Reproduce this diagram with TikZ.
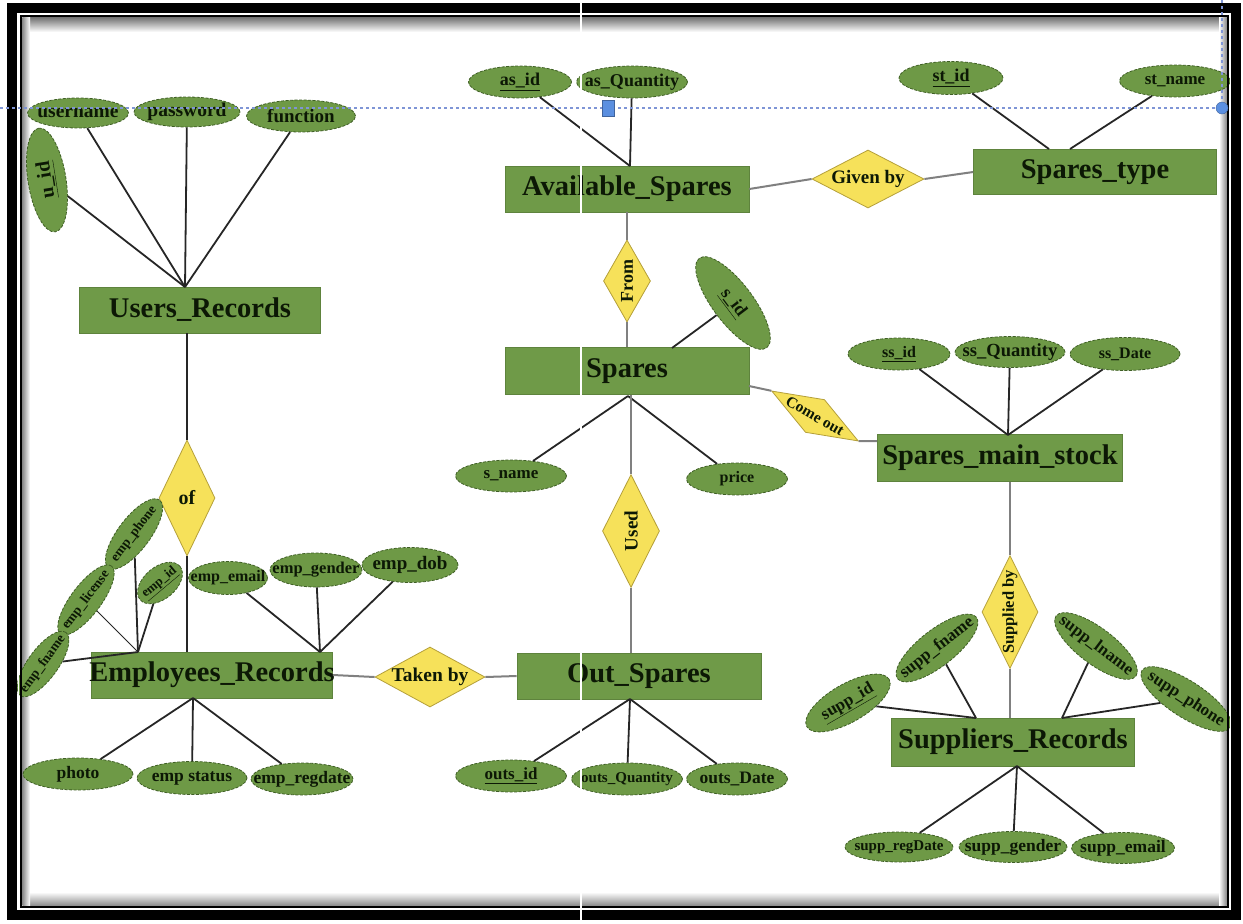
\documentclass[tikz,border=0pt]{standalone}
\usepackage{fontspec}
\setmainfont{Liberation Serif}
\usetikzlibrary{shapes.geometric}
\definecolor{entgreen}{HTML}{6F9A48}
\definecolor{attgreen}{HTML}{6E9946}
\definecolor{attedge}{HTML}{3F5F25}
\definecolor{relyellow}{HTML}{F6E15A}
\definecolor{reledge}{HTML}{B5A03A}
\definecolor{txt}{HTML}{0C1805}
\definecolor{handle}{HTML}{5B8FE0}
\definecolor{guide}{HTML}{7F95D6}
\newcommand{\fsz}[1]{\fontsize{#1}{#1}\selectfont\bfseries}
\newcommand{\zb}[1]{\makebox[0pt]{#1}}
\tikzset{
 entity/.style={rectangle, fill=entgreen, draw=entgreen!85!black, line width=0.6, minimum width=244, minimum height=46, inner sep=0, text=txt, font=\fsz{28.5}},
 attr/.style={ellipse, fill=attgreen, draw=attedge, dash pattern=on 3pt off 1.5pt, line width=0.8, inner sep=0, text=txt, font=\fsz{18}},
 fs/.style={font=\fsz{#1}},
 rel/.style={diamond, fill=relyellow, draw=reledge, line width=0.8, inner sep=0, text=txt, font=\fsz{19}},
 link/.style={draw=black!85, line width=1.8},
 rlink/.style={draw=black!50, line width=2},
}
\begin{document}
\begin{tikzpicture}[x=1pt,y=-1pt]
\useasboundingbox (0,0) rectangle (1243,924);
% background and inner shadow of the frame
\fill[white] (0,0) rectangle (1243,924);
\shade[top color=black!55, bottom color=white] (22.5,17.5) rectangle (1226.5,32);
\shade[top color=white, bottom color=black!45] (22.5,892) rectangle (1226.5,905.5);
\shade[left color=black!45, right color=white] (22.5,17.5) rectangle (30,905.5);
\shade[left color=white, right color=black!45] (1219,17.5) rectangle (1226.5,905.5);

% entities
\node[entity, minimum width=241] (users) at (200,310) {\zb{Users\_Records}};
\node[entity] (avail) at (627,189) {\zb{Available\_Spares}};
\node[entity, minimum width=243, minimum height=45] (stype) at (1095,172) {\zb{Spares\_type}};
\node[entity, minimum height=47] (spares) at (627,371) {\zb{Spares}};
\node[entity, minimum width=245, minimum height=47] (smain) at (1000,458) {\zb{Spares\_main\_stock}};
\node[entity, minimum width=241] (emp) at (212,675) {\zb{Employees\_Records}};
\node[entity] (outs) at (639,676) {\zb{Out\_Spares}};
\node[entity, minimum width=243, minimum height=48] (supps) at (1013,742) {\zb{Suppliers\_Records}};

% relationships
\node[rel, minimum width=56, minimum height=116, shape aspect=0.48, fs=20] (of) at (187,498) {\zb{of}};
\node[rel, minimum width=112, minimum height=58, shape aspect=1.93] (givenby) at (868,179) {\zb{Given by}};
\node[rel, minimum width=47, minimum height=82, shape aspect=0.57, fs=18] (from) at (627,281) {\zb{\rotatebox{90}{From}}};
\node[rel, minimum width=57, minimum height=113, shape aspect=0.5] (used) at (631,531) {\zb{\rotatebox{90}{Used}}};
\node[rel, minimum width=110, minimum height=60, shape aspect=1.83, fs=19.5] (takenby) at (430,677) {\zb{Taken by}};
\node[rel, minimum width=100, minimum height=38, shape aspect=2.6, rotate=-30, fs=15.5] (comeout) at (815,416) {\zb{Come out}};
\node[rel, minimum width=56, minimum height=113, shape aspect=0.5, fs=16.5] (supplied) at (1010,612) {\zb{\rotatebox{90}{Supplied by}}};

% attributes
\node[attr, fs=19.5, minimum width=101, minimum height=30] (username) at (78,113) {\zb{username}};
\node[attr, fs=19.5, minimum width=106, minimum height=30] (password) at (187,112) {\zb{password}};
\node[attr, fs=19, minimum width=109, minimum height=32] (function) at (301,116) {\zb{function}};
\node[attr, fs=20, minimum width=105, minimum height=38, rotate=99] (uid) at (47,180) {\zb{\underline{u\_id}}};
\node[attr, minimum width=103, minimum height=32] (asid) at (520,82) {\zb{\underline{as\_id}}};
\node[attr, minimum width=111, minimum height=32] (asqty) at (632,82) {\zb{as\_Quantity}};
\node[attr, minimum width=104, minimum height=33] (stid) at (951,78) {\zb{\underline{st\_id}}};
\node[attr, fs=17, minimum width=111, minimum height=32] (stname) at (1175,81) {\zb{st\_name}};
\node[attr, minimum width=112, minimum height=40, rotate=-53] (sid) at (733,303) {\zb{\underline{s\_id}}};
\node[attr, fs=17, minimum width=111, minimum height=32] (sname) at (511,476) {\zb{s\_name}};
\node[attr, fs=16, minimum width=101, minimum height=32] (price) at (737,479) {\zb{price}};
\node[attr, fs=16, minimum width=102, minimum height=32] (ssid) at (899,354) {\zb{\underline{ss\_id}}};
\node[attr, fs=18.5, minimum width=110, minimum height=31] (ssqty) at (1010,352) {\zb{ss\_Quantity}};
\node[attr, fs=16, minimum width=110, minimum height=33] (ssdate) at (1125,354) {\zb{ss\_Date}};
\node[attr, fs=16, minimum width=79, minimum height=33] (empemail) at (228,578) {\zb{emp\_email}};
\node[attr, fs=16.5, minimum width=92, minimum height=34] (empgender) at (316,570) {\zb{emp\_gender}};
\node[attr, fs=19, minimum width=96, minimum height=35] (empdob) at (410,565) {\zb{emp\_dob}};
\node[attr, fs=13, minimum width=52, minimum height=32, rotate=40] (empid) at (160,583) {\zb{\underline{emp\_id}}};
\node[attr, fs=13.5, minimum width=85, minimum height=32, rotate=53] (empphone) at (134,534) {\zb{emp\_phone}};
\node[attr, fs=13.5, minimum width=85, minimum height=30, rotate=53] (emplicense) at (86,600) {\zb{emp\_license}};
\node[attr, fs=13.5, minimum width=78, minimum height=30, rotate=54] (empfname) at (43,664) {\zb{emp\_fname}};
\node[attr, fs=17.5, minimum width=110, minimum height=32] (photo) at (78,774) {\zb{photo}};
\node[attr, fs=17.5, minimum width=110, minimum height=33] (empstatus) at (192,778) {\zb{emp status}};
\node[attr, fs=17.5, minimum width=102, minimum height=32] (empreg) at (302,779) {\zb{emp\_regdate}};
\node[attr, fs=17, minimum width=111, minimum height=32] (outsid) at (511,776) {\zb{\underline{outs\_id}}};
\node[attr, fs=15, minimum width=111, minimum height=32] (outsqty) at (627,779) {\zb{outs\_Quantity}};
\node[attr, fs=17.5, minimum width=101, minimum height=32] (outsdate) at (737,779) {\zb{outs\_Date}};
\node[attr, fs=17, minimum width=95, minimum height=38, rotate=30] (suppid) at (848,703) {\zb{\underline{supp\_id}}};
\node[attr, fs=17, minimum width=100, minimum height=36, rotate=38] (suppfname) at (937,648) {\zb{supp\_fname}};
\node[attr, fs=17, minimum width=100, minimum height=36, rotate=-37] (supplname) at (1096,646) {\zb{supp\_lname}};
\node[attr, fs=17, minimum width=105, minimum height=36, rotate=-33] (suppphone) at (1186,699) {\zb{supp\_phone}};
\node[attr, fs=15, minimum width=108, minimum height=30] (suppreg) at (899,847) {\zb{supp\_regDate}};
\node[attr, fs=17.5, minimum width=108, minimum height=31] (suppgender) at (1013,847) {\zb{supp\_gender}};
\node[attr, fs=17.5, minimum width=103, minimum height=31] (suppemail) at (1123,848) {\zb{supp\_email}};

% junction points on entity borders
\coordinate (ur) at (185,287);
\coordinate (avt) at (630,166);
\coordinate (stA) at (1049,149);
\coordinate (stB) at (1070,149);
\coordinate (spt) at (672,348);
\coordinate (spb) at (628,396);
\coordinate (spr) at (749,386);
\coordinate (sml) at (877,441);
\coordinate (smt) at (1008,435);
\coordinate (outt) at (630,699);
\coordinate (et1) at (138,652);
\coordinate (et2) at (320,652);
\coordinate (eb) at (193,698);
\coordinate (st1) at (976,718);
\coordinate (st2) at (1062,718);
\coordinate (sb) at (1017,766);

% attribute connectors
\draw[link] (username) -- (ur);
\draw[link] (password) -- (ur);
\draw[link] (function) -- (ur);
\draw[link] (uid) -- (ur);
\draw[link] (asid) -- (avt);
\draw[link] (asqty) -- (avt);
\draw[link] (stid) -- (stA);
\draw[link] (stname) -- (stB);
\draw[link] (sid) -- (spt);
\draw[link] (sname) -- (spb);
\draw[link] (price) -- (spb);
\draw[link] (ssid) -- (smt);
\draw[link] (ssqty) -- (smt);
\draw[link] (ssdate) -- (smt);
\draw[link] (empemail) -- (et2);
\draw[link] (empgender) -- (et2);
\draw[link] (empdob) -- (et2);
\draw[link] (empphone) -- (et1);
\draw[link, line width=1] (emplicense) -- (et1);
\draw[link] (empid) -- (et1);
\draw[link] (empfname) -- (et1);
\draw[link] (photo) -- (eb);
\draw[link] (empstatus) -- (eb);
\draw[link] (empreg) -- (eb);
\draw[link] (outsid) -- (outt);
\draw[link] (outsqty) -- (outt);
\draw[link] (outsdate) -- (outt);
\draw[link] (suppid) -- (st1);
\draw[link] (suppfname) -- (st1);
\draw[link] (supplname) -- (st2);
\draw[link] (suppphone) -- (st2);
\draw[link] (suppreg) -- (sb);
\draw[link] (suppgender) -- (sb);
\draw[link] (suppemail) -- (sb);

% relationship connectors
\draw[link] (users.south -| of.north) -- (of.north);
\draw[link] (of.south) -- (of.south |- emp.north);
\draw[rlink] (avail.east) -- (givenby.west);
\draw[rlink] (givenby.east) -- (stype.west);
\draw[rlink] (avail.south) -- (from.north);
\draw[rlink] (from.south) -- (spares.north);
\draw[rlink] (spares.south -| used.north) -- (used.north);
\draw[rlink] (used.south) -- (used.south |- outs.north);
\draw[rlink] (emp.east) -- (takenby.west);
\draw[rlink] (takenby.east) -- (outs.west);
\draw[rlink] (spr) -- (comeout.west);
\draw[rlink] (comeout.east) -- (sml);
\draw[rlink] (supplied.north |- smain.south) -- (supplied.north);
\draw[rlink] (supplied.south) -- (supplied.south |- supps.north);

% frame
\draw[black, line width=10] (12,8) rectangle (1236,915);
\draw[white, line width=1.2] (18.5,13.5) rectangle (1230.5,909.5);
\draw[black, line width=2.5] (21,16) rectangle (1228,907);

% screenshot artefacts
\draw[white, line width=2] (581,0) -- (581,924);
\draw[guide, dashed, line width=1.2] (0,108) -- (1222,108);
\draw[guide, dashed, line width=1.2] (1222,0) -- (1222,108);
\filldraw[fill=handle, draw=handle!70!black] (602,100) rectangle (614,116);
\filldraw[fill=handle, draw=handle!70!black] (1222,108) circle (6);
\end{tikzpicture}
\end{document}
